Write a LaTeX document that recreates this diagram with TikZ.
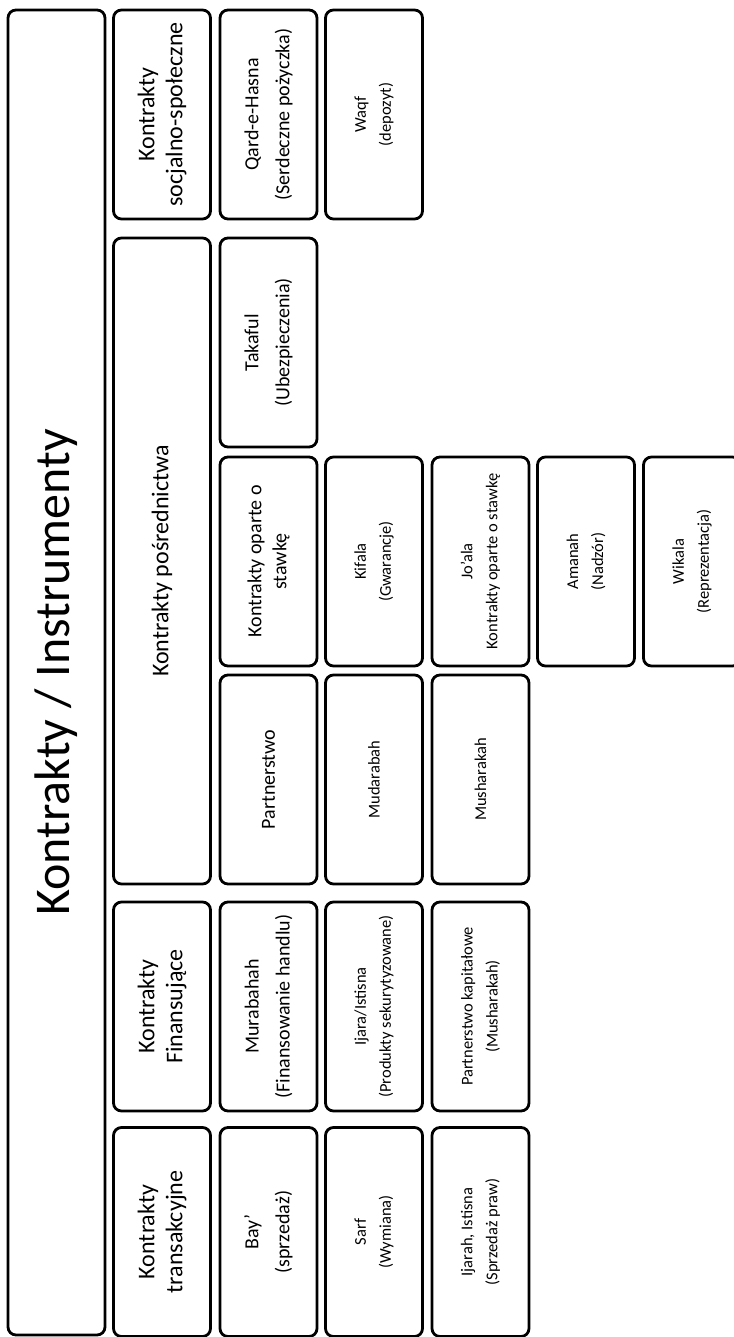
\documentclass[tikz,border=0pt]{standalone}
\usepackage{fontspec}
\setmainfont{Carlito}
\usepackage{tikz}

\begin{document}
\begin{tikzpicture}[x=0.5pt,y=-0.5pt]
  \tikzset{cell/.style = {draw, rotate=90, rounded corners=4pt, line width=1.4pt,
      minimum width=104.5pt, minimum height=48.5pt, inner sep=0pt, align=center}}
  \tikzset{hdrbox/.style = {cell, font=\fontsize{12}{14}\selectfont}}
  \tikzset{midbox/.style = {cell, font=\fontsize{10}{15.5}\selectfont}}
  \tikzset{smlbox/.style = {cell, font=\fontsize{8.25}{12.5}\selectfont}}

  \useasboundingbox (0,0) rectangle (733,1337);

  % title
  \node[cell, minimum width=662.5pt, font=\fontsize{25}{30}\selectfont] (title) at (56.5,672.5) {Kontrakty / Instrumenty};

  % headers
  \node[hdrbox] (socjalne) at (162,114.5) {Kontrakty\\socjalno-społeczne};
  \node[hdrbox, minimum width=323pt] (posrednictwa) at (162,561) {Kontrakty pośrednictwa};
  \node[hdrbox] (finansujace) at (162,1006.5) {Kontrakty\\Finansujące};
  \node[hdrbox] (transakcyjne) at (162,1232) {Kontrakty\\transakcyjne};

  % first row of items
  \node[midbox] (qard) at (268.5,114.5) {Qard-e-Hasna\\(Serdeczne pożyczka)};
  \node[midbox] (takaful) at (268.5,342.5) {Takaful\\(Ubezpieczenia)};
  \node[midbox, font=\fontsize{10}{12.5}\selectfont] (stawka) at (268.5,561.5) {Kontrakty oparte o\\stawkę};
  \node[midbox] (partnerstwo) at (268.5,779.5) {Partnerstwo};
  \node[midbox] (murabahah) at (268.5,1006.5) {Murabahah\\(Finansowanie handlu)};
  \node[midbox] (bay) at (268.5,1232) {Bay’\\(sprzedaż)};

  % remaining items
  \foreach \n/\x/\y/\t in {waqf/374/114.5/{Waqf\\(depozyt)},
      kifala/374/561.5/{Kifala\\(Gwarancje)},
      mudarabah/374/779.5/{Mudarabah},
      ijara/374/1006.5/{Ijara/Istisna\\(Produkty sekurytyzowane)},
      sarf/374/1232/{Sarf\\(Wymiana)},
      joala/480.5/561.5/{Jo’ala\\Kontrakty oparte o stawkę},
      musharakah/480.5/779.5/{Musharakah},
      kapitalowe/480.5/1006.5/{Partnerstwo kapitałowe\\(Musharakah)},
      ijarah/480.5/1232/{Ijarah, Istisna\\(Sprzedaż praw)},
      amanah/586/561.5/{Amanah\\(Nadzór)},
      wikala/692/561.5/{Wikala\\(Reprezentacja)}}
  {
    \node[smlbox] (\n) at (\x,\y) {\t};
  }
\end{tikzpicture}
\end{document}
